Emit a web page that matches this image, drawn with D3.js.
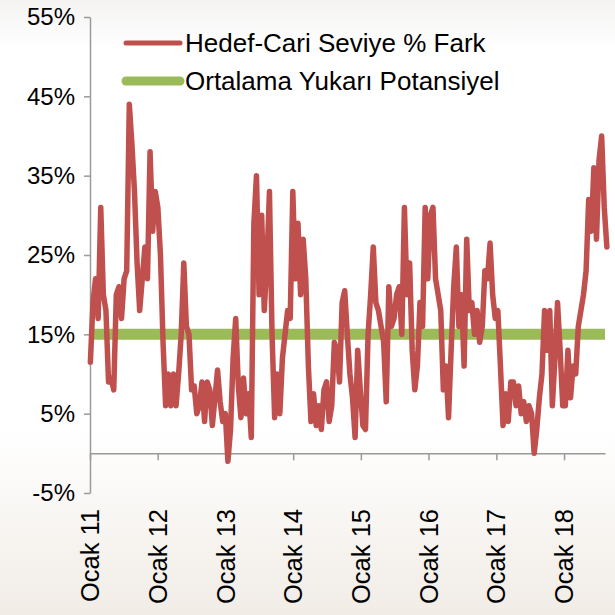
<!DOCTYPE html>
<html>
<head>
<meta charset="utf-8">
<script src="https://cdn.jsdelivr.net/npm/d3@7"></script>
<style>
  html, body { margin: 0; padding: 0; }
  body { width: 615px; height: 615px; overflow: hidden; }
  svg { display: block; font-family: "Liberation Sans", Arial, sans-serif; }
</style>
</head>
<body>
<div id="chart"></div>
<script>
// bi-weekly readings, first one in early Jan 2011
const startDate = "2011-01-03";
const stepDays = 14;

const gapValues = [
  11.5, 19, 22, 17, 31, 20, 18, 9, 9.5, 8, 20, 21, 17, 22, 23, 44, 39, 33, 24, 18,
  22, 26, 22, 38, 28, 33, 31, 25, 14, 6, 10, 6, 10, 6, 10, 15, 24, 16, 15, 8,
  8.5, 5, 6, 9, 4, 9, 8, 3.5, 7, 10.5, 6.5, 4, 5, -1, 3, 12, 17, 8.5, 4.5, 9.5,
  5, 7.5, 2, 29, 35, 20, 30, 18, 24, 33, 15, 4.5, 10, 5, 12, 15, 18, 17, 33, 22,
  29, 20, 27, 22, 11, 4, 7.5, 3.5, 6, 3, 8, 9, 4, 6, 14, 13, 9, 19, 20.5, 15,
  10, 7, 2, 13, 8, 3.5, 3, 15, 20, 26, 19, 18, 16, 14, 6.5, 21, 16, 17, 20, 21,
  15, 31, 20, 24, 13, 8, 11, 19, 16, 31, 22, 30, 31, 22, 20, 18, 8, 11, 4.5, 13,
  21, 26, 16, 20, 11, 27, 18, 19, 15, 18, 14, 16, 23, 22, 26.5, 20, 17, 18, 11, 3.5,
  7.5, 4, 9, 9, 6, 8.5, 5, 6.5, 4, 6, 5, 0, 3, 7, 10, 18, 13, 18, 6, 12,
  19, 13, 6, 6, 13, 7, 11, 10, 16, 18, 20, 23, 32, 28, 36, 27, 37, 40, 31, 26
];

const averageLevel = 15;

const yTicks = [-5, 5, 15, 25, 35, 45, 55];
const yearTicks = [2011, 2012, 2013, 2014, 2015, 2016, 2017, 2018];
const yearLabels = ["Ocak 11", "Ocak 12", "Ocak 13", "Ocak 14", "Ocak 15", "Ocak 16", "Ocak 17", "Ocak 18"];

const seriesNames = ["Hedef-Cari Seviye % Fark", "Ortalama Yukarı Potansiyel"];
const seriesColors = ["#C0504D", "#9BBB59"];

const parse = d3.timeParse("%Y-%m-%d");
const t0 = parse(startDate);
const gapData = gapValues.map((v, i) => ({ date: d3.timeDay.offset(t0, i * stepDays), value: v }));

const width = 615, height = 615;
const margin = { top: 17, right: 10, bottom: 122, left: 90 };

const svg = d3.select("#chart").append("svg")
  .attr("width", width)
  .attr("height", height);

// soft background like the slide
const defs = svg.append("defs");
const bg = defs.append("linearGradient").attr("id", "bg")
  .attr("x1", 0).attr("y1", 0).attr("x2", 0).attr("y2", 1);
bg.append("stop").attr("offset", "0%").attr("stop-color", "#f4f3f2");
bg.append("stop").attr("offset", "8%").attr("stop-color", "#ffffff");
bg.append("stop").attr("offset", "70%").attr("stop-color", "#ffffff");
bg.append("stop").attr("offset", "100%").attr("stop-color", "#f1ece6");
svg.append("rect").attr("width", width).attr("height", height).attr("fill", "url(#bg)");

const x = d3.scaleTime()
  .domain([new Date(2011, 0, 1), new Date(2018, 7, 10)])
  .range([margin.left, width - margin.right]);

const y = d3.scaleLinear()
  .domain([-5, 55])
  .range([height - margin.bottom, margin.top]);

// y axis
const yAxis = svg.append("g")
  .attr("transform", `translate(${margin.left},0)`)
  .call(d3.axisLeft(y).tickValues(yTicks).tickSize(6).tickSizeOuter(0).tickFormat(d => d + "%"));
yAxis.select(".domain").attr("stroke", "#9a9a9a").attr("stroke-width", 1.5);
yAxis.selectAll(".tick line").attr("stroke", "#9a9a9a").attr("stroke-width", 1.5);
yAxis.selectAll(".tick text")
  .attr("x", -15)
  .attr("font-size", 24)
  .attr("fill", "#000")
  .attr("font-family", "Liberation Sans, Arial, sans-serif");

// x axis sits on the 0% line
const xAxis = svg.append("g")
  .attr("transform", `translate(0,${y(0)})`)
  .call(d3.axisBottom(x)
    .tickValues(yearTicks.map(yr => new Date(yr, 0, 1)))
    .tickSize(7).tickSizeOuter(0)
    .tickFormat(() => ""));
xAxis.select(".domain").attr("stroke", "#9a9a9a").attr("stroke-width", 1.5);
xAxis.selectAll(".tick line").attr("stroke", "#9a9a9a").attr("stroke-width", 1.5);

// rotated year labels below the chart
svg.append("g")
  .selectAll("text")
  .data(yearTicks)
  .join("text")
  .attr("transform", d => `translate(${x(new Date(d, 0, 1)) + 9},509) rotate(-90)`)
  .attr("text-anchor", "end")
  .attr("font-size", 25.5)
  .attr("fill", "#000")
  .text((d, i) => yearLabels[i]);

// average line
svg.append("line")
  .attr("x1", x.range()[0])
  .attr("x2", x.range()[1])
  .attr("y1", y(averageLevel))
  .attr("y2", y(averageLevel))
  .attr("stroke", seriesColors[1])
  .attr("stroke-width", 11);

// gap series
const line = d3.line()
  .x(d => x(d.date))
  .y(d => y(d.value));

svg.append("path")
  .datum(gapData)
  .attr("fill", "none")
  .attr("stroke", seriesColors[0])
  .attr("stroke-width", 5.5)
  .attr("stroke-linejoin", "round")
  .attr("stroke-linecap", "round")
  .attr("d", line);

// legend
const legend = svg.append("g");
const legendY = [43, 81];
const legendW = [5, 9];
legend.selectAll("line")
  .data(seriesNames)
  .join("line")
  .attr("x1", 126).attr("x2", 180)
  .attr("y1", (d, i) => legendY[i]).attr("y2", (d, i) => legendY[i])
  .attr("stroke", (d, i) => seriesColors[i])
  .attr("stroke-width", (d, i) => legendW[i])
  .attr("stroke-linecap", "round");
legend.selectAll("text")
  .data(seriesNames)
  .join("text")
  .attr("x", 185)
  .attr("y", (d, i) => legendY[i])
  .attr("dy", "0.35em")
  .attr("font-size", 26)
  .attr("fill", "#000")
  .text(d => d);
</script>
</body>
</html>
